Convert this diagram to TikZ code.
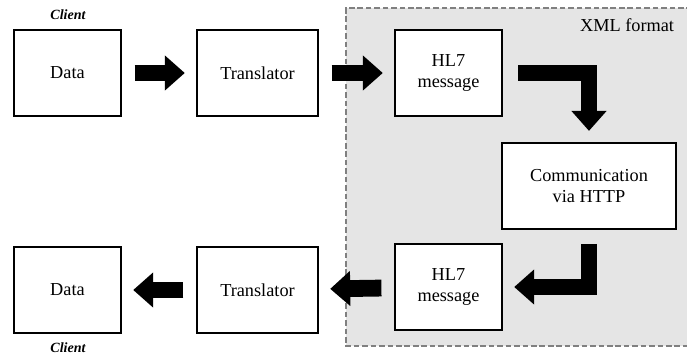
\documentclass[tikz,border=0pt]{standalone}
\usepackage{fontspec}
\setmainfont{Liberation Serif}
\usetikzlibrary{positioning,arrows.meta}

\begin{document}
\begin{tikzpicture}[x=0.025cm,y=-0.025cm,font=\fontsize{13}{15}\selectfont]
            \tikzstyle{box}=[draw,line width=1.2pt,fill=white,minimum height=2.15cm,align=center]
            \tikzstyle{bigarrow}=[line width=0.42cm,line join=miter,-{Triangle[length=0.5cm,width=0.85cm]},shorten <=9pt,shorten >=8pt]
            \tikzstyle{client}=[font=\fontsize{10}{11}\selectfont\bfseries\itshape]
            \useasboundingbox (0,0) rectangle (687,356);
            % XML zone
            \fill[gray!20] (346,8) rectangle (692,346);
            \draw[gray,line width=1pt,dash pattern=on 4pt off 2pt] (692,8) -- (346,8) -- (346,346) -- (692,346);
            \node[anchor=east] (xml) at (679,25) {XML format};
            % top row
            \node[box,minimum width=2.68cm] (data1) at (67.5,73) {Data};
            \node[box,minimum width=3.03cm] (trans1) at (257.5,73) {Translator};
            \node[box,minimum width=2.68cm] (hl71) at (448.5,73) {HL7\\message};
            \node[box,minimum width=4.35cm] (comm) at (589,186) {Communication\\via HTTP};
            % bottom row
            \node[box,minimum width=2.68cm] (hl72) at (448.5,287) {HL7\\message};
            \node[box,minimum width=3.03cm] (trans2) at (257.5,290) {Translator};
            \node[box,minimum width=2.68cm] (data2) at (67.5,290) {Data};
            \node[client] (cl1) at (68,15) {Client};
            \node[client] (cl2) at (68,348) {Client};
            % arrows
            \draw[bigarrow] (data1) -- (trans1);
            \draw[bigarrow] (trans1) -- (hl71);
            \draw[bigarrow,shorten <=0pt] ([xshift=11pt]hl71.east) -| (comm.north);
            \draw[bigarrow,shorten <=0pt] ([yshift=-10pt]comm.south) |- (hl72.east);
            \draw[bigarrow] (hl72) -- (trans2);
            \draw[bigarrow] (trans2) -- (data2);
          \end{tikzpicture}
\end{document}
